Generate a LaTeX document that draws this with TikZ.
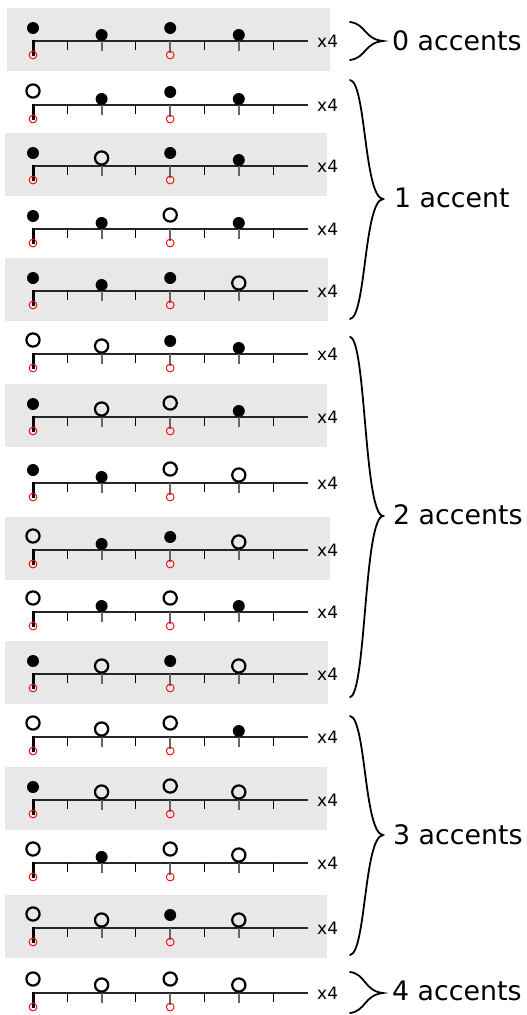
\documentclass[tikz,border=0pt]{standalone}
\usepackage{fontspec}
\setmainfont{DejaVu Sans}
\begin{document}
\begin{tikzpicture}[x=1pt,y=-1pt,
  rowbg/.style={fill=bgcol},
  axisline/.style={draw=black!85,line width=1.3pt},
  minortick/.style={draw=black,line width=1.1pt},
  beattick/.style={draw=black!60,line width=1.8pt},
  downbeat/.style={draw=black,line width=3pt},
  cue/.style={draw=red,line width=0.9pt},
  hollow/.style={draw=black,line width=2.2pt},
  reps/.style={anchor=west,inner sep=0pt,font=\fontsize{17}{19}\selectfont},
  grouplab/.style={anchor=west,inner sep=0pt,font=\fontsize{26.8}{30}\selectfont},
  bracket/.style={draw=black,line width=1.8pt,line cap=round}]
\definecolor{bgcol}{RGB}{232,232,232}
\useasboundingbox (0,0) rectangle (527,1015);

% shaded backgrounds behind every other bar
\foreach \y/\xl/\xr in {41/7/330,166/5/327,291/5/328,417/5/327,550/5/330,674/5/328,800/5/327,928/5/327}
  \fill[rowbg] (\xl,\y-33) rectangle (\xr,\y+30);

% one note head: x, line y, h/l (high or low), F/O (filled or open)
\newcommand\beatmark[4]{%
  \if#4F%
    \if#3h\fill (#1,#2-13) circle[radius=6pt];\else\fill (#1,#2-6) circle[radius=6pt];\fi
  \else
    \if#3h\draw[hollow] (#1,#2-14) circle[radius=6.6pt];\else\draw[hollow] (#1,#2-8) circle[radius=6.6pt];\fi
  \fi}

\foreach \y/\a/\b/\c/\d [count=\i] in {
    41/F/F/F/F, 105/O/F/F/F, 166/F/O/F/F, 229/F/F/O/F,
    291/F/F/F/O, 354/O/O/F/F, 417/F/O/O/F, 483/F/F/O/O,
    550/O/F/F/O, 612/O/F/O/F, 674/F/O/F/O, 737/O/O/O/F,
    800/F/O/O/O, 863/O/F/O/O, 928/O/O/F/O, 993/O/O/O/O} {
  % time axis with subdivisions
  \draw[axisline] (32.5,\y) -- (308,\y);
  \foreach \t in {67.3,135.9,204.5,273.1}
    \draw[minortick] (\t,\y) -- (\t,\y+9);
  \draw[beattick] (101.6,\y) -- (101.6,\y+10);
  \draw[beattick] (238.8,\y) -- (238.8,\y+10);
  \draw[beattick] (170.2,\y) -- (170.2,\y+12);
  \draw[downbeat] (33,\y-0.6) -- (33,\y+15);
  \draw[cue] (33,\y+14) circle[radius=3.9pt];
  \draw[cue] (170.2,\y+14) circle[radius=3.9pt];
  % note heads
  \beatmark{33}{\y}{h}{\a}
  \beatmark{101.6}{\y}{l}{\b}
  \beatmark{170.2}{\y}{h}{\c}
  \beatmark{238.8}{\y}{l}{\d}
  \node[reps] (rep\i) at (317,\y) {x4};
}

% group braces: top, tip, bottom
\foreach \ya/\ym/\yb/\name in {22/41/60/z, 80/199/319/a, 337/516/697/b, 716/835/955/c, 972/993/1013/d} {
  \coordinate (top\name) at (350,\ya);
  \coordinate (tip\name) at (383,\ym);
  \coordinate (bot\name) at (350,\yb);
  \draw[bracket] (top\name) .. controls (366,\ya+2) and (364,\ym-2) .. (tip\name)
                 .. controls (364,\ym+2) and (366,\yb-2) .. (bot\name);
}

\node[grouplab] (acc0) at (392,41) {0 accents};
\node[grouplab] (acc1) at (394,198) {1 accent};
\node[grouplab] (acc2) at (393,515) {2 accents};
\node[grouplab] (acc3) at (393,835) {3 accents};
\node[grouplab] (acc4) at (392,991) {4 accents};
\end{tikzpicture}
\end{document}
